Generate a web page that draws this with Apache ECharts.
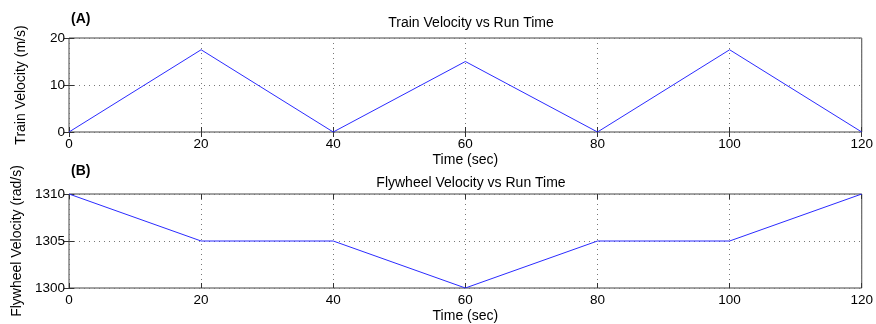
<!DOCTYPE html>
<html>
<head>
<meta charset="utf-8">
<style>
  html, body { margin: 0; padding: 0; background: #fff; }
  #chart { width: 876px; height: 324px; }
</style>
</head>
<body>
<div id="chart"></div>
<script src="https://cdn.jsdelivr.net/npm/echarts@6/dist/echarts.min.js"></script>
<script>
// run time (sec)
var runTime = [0, 20, 40, 60, 80, 100, 120];
// train velocity (m/s)
var trainVelocity = [0, 17.5, 0, 15, 0, 17.5, 0];
// flywheel velocity (rad/s)
var flywheelVelocity = [1310, 1305, 1305, 1300, 1305, 1305, 1310];

var FONT = 'Liberation Sans, Arial, sans-serif';
var chart = echarts.init(document.getElementById('chart'));

function pairs(xs, ys) {
    return xs.map(function (x, i) { return [x, ys[i]]; });
}

function xAxisCfg(grid, withLabels) {
    return {
        type: 'value', gridIndex: grid, min: 0, max: 120, interval: 20,
        position: withLabels ? 'bottom' : 'top',
        name: withLabels ? 'Time (sec)' : '',
        nameLocation: 'middle', nameGap: 21,
        nameTextStyle: { fontFamily: FONT, fontSize: 14, color: '#000' },
        axisLine: { show: false },
        axisTick: { show: true, inside: true, length: 5, lineStyle: { color: '#333' } },
        axisLabel: { show: withLabels, fontFamily: FONT, fontSize: 13.5, color: '#000', margin: 5 },
        splitLine: { show: withLabels, lineStyle: { type: [1, 4], color: '#777' } }
    };
}

function yAxisCfg(grid, min, max, interval, name, withLabels) {
    return {
        type: 'value', gridIndex: grid, min: min, max: max, interval: interval,
        position: withLabels ? 'left' : 'right',
        name: withLabels ? name : '',
        nameLocation: 'middle', nameRotate: 90,
        nameGap: grid === 0 ? 41 : 45,
        nameTextStyle: { fontFamily: FONT, fontSize: 14, color: '#000' },
        axisLine: { show: false },
        axisTick: { show: true, inside: true, length: 5, lineStyle: { color: '#333' } },
        axisLabel: {
            show: withLabels, fontFamily: FONT, fontSize: 13.5, color: '#000', margin: 4,
            formatter: function (v) { return String(v); }
        },
        splitLine: { show: withLabels, lineStyle: { type: [1, 4], color: '#777' } }
    };
}

var option = {
    animation: false,
    backgroundColor: '#fff',
    title: [
        { text: '(A)', left: 66, top: 7, textStyle: { fontFamily: FONT, fontSize: 14, fontWeight: 'bold', color: '#000' } },
        { text: 'Train Velocity vs Run Time', left: 466, textAlign: 'center', top: 11, textStyle: { fontFamily: FONT, fontSize: 14, fontWeight: 'normal', color: '#000' } },
        { text: '(B)', left: 66, top: 159, textStyle: { fontFamily: FONT, fontSize: 14, fontWeight: 'bold', color: '#000' } },
        { text: 'Flywheel Velocity vs Run Time', left: 466, textAlign: 'center', top: 171, textStyle: { fontFamily: FONT, fontSize: 14, fontWeight: 'normal', color: '#000' } }
    ],
    grid: [
        { left: 69, right: 13, top: 38, height: 94, show: true, borderColor: '#444', borderWidth: 1 },
        { left: 69, right: 13, top: 194, height: 94, show: true, borderColor: '#444', borderWidth: 1 }
    ],
    xAxis: [
        xAxisCfg(0, true), xAxisCfg(0, false),
        xAxisCfg(1, true), xAxisCfg(1, false)
    ],
    yAxis: [
        yAxisCfg(0, 0, 20, 10, 'Train Velocity (m/s)', true),
        yAxisCfg(0, 0, 20, 10, '', false),
        yAxisCfg(1, 1300, 1310, 5, 'Flywheel Velocity (rad/s)', true),
        yAxisCfg(1, 1300, 1310, 5, '', false)
    ],
    series: [
        {
            type: 'line', xAxisIndex: 0, yAxisIndex: 0,
            data: pairs(runTime, trainVelocity),
            showSymbol: false, lineStyle: { color: '#2b2bff', width: 1 }
        },
        {
            type: 'line', xAxisIndex: 2, yAxisIndex: 2,
            data: pairs(runTime, flywheelVelocity),
            showSymbol: false, lineStyle: { color: '#2b2bff', width: 1 }
        }
    ]
};
chart.setOption(option);
</script>
</body>
</html>
